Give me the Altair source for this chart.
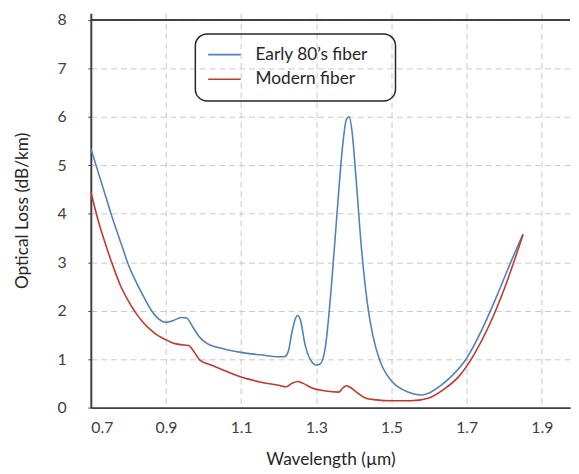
import altair as alt
import pandas as pd

early_x = [0.70, 0.72, 0.74, 0.76, 0.78, 0.80, 0.82, 0.84, 0.86, 0.88, 0.90, 0.92, 0.94, 0.955,
           0.97, 0.99, 1.01, 1.05, 1.10, 1.15, 1.20, 1.215, 1.225, 1.235, 1.245, 1.25, 1.258,
           1.27, 1.285, 1.30, 1.31, 1.325, 1.34, 1.355, 1.37, 1.38, 1.387, 1.395, 1.405, 1.42,
           1.435, 1.45, 1.47, 1.50, 1.53, 1.56, 1.58, 1.60, 1.63, 1.66, 1.70, 1.74, 1.78, 1.82, 1.85]
early_y = [5.35, 4.85, 4.35, 3.85, 3.40, 2.95, 2.60, 2.30, 2.02, 1.83, 1.76, 1.80, 1.86, 1.85,
           1.68, 1.45, 1.32, 1.22, 1.14, 1.09, 1.05, 1.05, 1.15, 1.55, 1.85, 1.90, 1.80,
           1.30, 0.98, 0.88, 0.90, 1.30, 2.50, 4.00, 5.40, 5.95, 6.00, 5.70, 4.80, 3.30,
           2.20, 1.50, 0.95, 0.55, 0.37, 0.28, 0.26, 0.30, 0.45, 0.65, 1.02, 1.60, 2.30, 3.05, 3.58]

modern_x = [0.70, 0.72, 0.74, 0.76, 0.78, 0.80, 0.82, 0.84, 0.86, 0.88, 0.90, 0.92, 0.94, 0.96,
            0.975, 0.99, 1.02, 1.06, 1.10, 1.15, 1.20, 1.22, 1.235, 1.25, 1.265, 1.29, 1.32,
            1.36, 1.37, 1.38, 1.39, 1.41, 1.43, 1.46, 1.50, 1.55, 1.60, 1.64, 1.68, 1.72, 1.76,
            1.80, 1.85]
modern_y = [4.45, 3.85, 3.35, 2.90, 2.50, 2.20, 1.95, 1.75, 1.60, 1.48, 1.40, 1.33, 1.30, 1.28,
            1.15, 0.98, 0.88, 0.75, 0.63, 0.53, 0.46, 0.43, 0.50, 0.54, 0.50, 0.40, 0.35,
            0.32, 0.40, 0.45, 0.42, 0.30, 0.20, 0.16, 0.14, 0.14, 0.20, 0.38, 0.65, 1.10, 1.70,
            2.45, 3.57]

series_names = ["Early 80\u2019s fiber", "Modern fiber"]
series_colors = ["#4f81bd", "#c0392b"]
x_ticks = [0.7, 0.9, 1.1, 1.3, 1.5, 1.7, 1.9]
y_ticks = [0, 1, 2, 3, 4, 5, 6, 7, 8]

df = pd.concat([
    pd.DataFrame({"wl": early_x, "loss": early_y, "series": series_names[0], "order": range(len(early_x))}),
    pd.DataFrame({"wl": modern_x, "loss": modern_y, "series": series_names[1], "order": range(len(modern_x))}),
])

FONT = "Lato"

xscale = alt.Scale(domain=[0.7, 1.975], nice=False, zero=False)
yscale = alt.Scale(domain=[0, 8.14], nice=False)

lines = alt.Chart(df).mark_line(interpolate="monotone", strokeWidth=1.6, clip=True).encode(
    x=alt.X("wl:Q", scale=xscale, title="Wavelength (\u00b5m)",
            axis=alt.Axis(values=x_ticks, format=".1f", grid=True, gridDash=[6, 4],
                          gridColor="#c8c8c8", gridWidth=1, ticks=False,
                          domainColor="#404040", domainWidth=2,
                          labelFont=FONT, labelFontSize=16, labelColor="#404040", labelPadding=12,
                          titleFont=FONT, titleFontSize=17.5, titleFontWeight="normal",
                          titleColor="#262626", titlePadding=16)),
    y=alt.Y("loss:Q", scale=yscale, title="Optical Loss (dB/km)",
            axis=alt.Axis(values=y_ticks, grid=True, gridDash=[6, 4], gridColor="#c8c8c8",
                          gridWidth=1, tickSize=3, tickColor="#404040", domainColor="#404040",
                          domainWidth=2, labelFont=FONT, labelFontSize=16, labelColor="#404040",
                          labelPadding=22, titleFont=FONT, titleFontSize=17.5,
                          titleFontWeight="normal", titleColor="#262626", titlePadding=26)),
    color=alt.Color("series:N",
                    scale=alt.Scale(domain=series_names, range=series_colors),
                    legend=None),
    order="order:Q",
)

top_line = alt.Chart(pd.DataFrame({"y": [8]})).mark_rule(color="#404040", strokeWidth=2).encode(
    y=alt.Y("y:Q", scale=yscale)
)

# manual legend box
leg_df = pd.DataFrame({"name": series_names, "color": series_colors})
box = alt.Chart(leg_df.head(1)).mark_rect(
    fill=None, fillOpacity=0, stroke="#262626", strokeWidth=1.5, cornerRadius=12
).encode(x=alt.value(106), x2=alt.value(309), y=alt.value(21), y2=alt.value(89))

legend_layers = [box]
row_y = [42, 67]
for i, (nm, col) in enumerate(zip(series_names, series_colors)):
    d = pd.DataFrame({"name": [nm]})
    legend_layers.append(
        alt.Chart(d).mark_rule(color=col, strokeWidth=1.6).encode(
            x=alt.value(119), x2=alt.value(152), y=alt.value(row_y[i]))
    )
    legend_layers.append(
        alt.Chart(d).mark_text(align="left", baseline="middle", font=FONT, fontSize=17.5,
                               color="#262626").encode(
            x=alt.value(167), y=alt.value(row_y[i]), text="name:N")
    )

chart = alt.layer(lines, top_line, *legend_layers).properties(
    width=486, height=400,
    padding={"left": 5, "top": 0, "right": 0, "bottom": 0},
).configure_view(stroke=None)

chart.save("out.html", embed_options={"renderer": "svg", "actions": False})
